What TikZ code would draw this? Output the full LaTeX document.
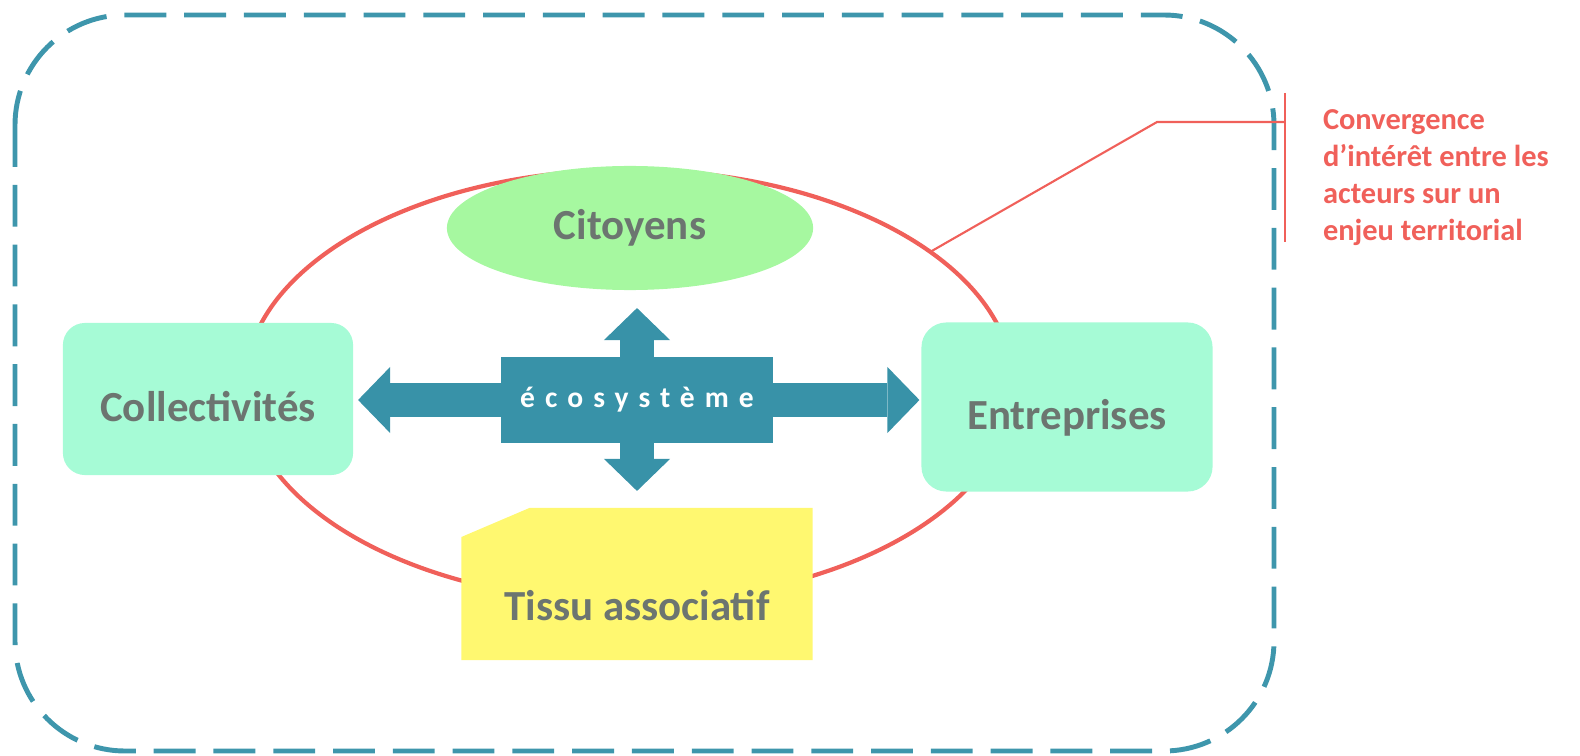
\documentclass[tikz,border=0pt]{standalone}
\usepackage{fontspec}
\setmainfont{Carlito}
\usepackage{tikz}
\usetikzlibrary{arrows.meta,shapes.geometric}

\definecolor{boxline}{RGB}{62,150,172}
\definecolor{ecoblue}{RGB}{56,146,168}
\definecolor{redline}{RGB}{240,96,90}
\definecolor{citgreen}{RGB}{166,248,160}
\definecolor{mint}{RGB}{166,251,214}
\definecolor{tisyellow}{RGB}{255,248,112}
\definecolor{textgray}{RGB}{108,117,112}

\begin{document}
\begin{tikzpicture}[x=0.01cm,y=-0.01cm]
        \tikzstyle{every node} = [inner sep=0pt, outer sep=0pt]
        \tikzstyle{actor} = [rectangle, fill=mint, text=textgray, font=\fontsize{12.2}{14}\selectfont\bfseries]
        \tikzstyle{bigarrow} = [ecoblue, line width=0.34cm, -{Triangle[length=0.32cm, width=0.66cm, line width=0pt]}]
        \useasboundingbox (0,0) rectangle (1580,755);
        \draw[boxline, line width=1.4pt, dash pattern=on 11.9pt off 5.1pt, rounded corners=1.1cm] (15,15) rectangle (1274,751);
        \node[ellipse, draw=redline, line width=1.2pt, minimum width=7.68cm, minimum height=4.32cm] (ring) at (629,386) {};
        \node[actor, ellipse, fill=citgreen, minimum width=3.66cm, minimum height=1.24cm] (cit) at (630,228) {Citoyens};
        \node[actor, rounded corners=0.22cm, minimum width=2.90cm, minimum height=1.52cm] (coll) at (208,399) {\raisebox{-0.07cm}[\height][0pt]{Collectivités}};
        \node[actor, rounded corners=0.25cm, minimum width=2.91cm, minimum height=1.69cm] (ent) at (1067,407) {\raisebox{-0.07cm}[\height][0pt]{Entreprises}};
        \node[actor, fill=none, minimum width=3.51cm, minimum height=1.52cm,
            path picture={\fill[tisyellow] ([yshift=-0.29cm]path picture bounding box.north west) -- ([xshift=0.68cm]path picture bounding box.north west) -- (path picture bounding box.north east) -- (path picture bounding box.south east) -- (path picture bounding box.south west) -- cycle;}]
            (tis) at (637,584) {\raisebox{-0.21cm}[\height][0pt]{Tissu associatif}};
        \node[rectangle, fill=ecoblue, text=white, minimum width=2.71cm, minimum height=0.86cm,
            font=\fontsize{8.4}{10}\selectfont\bfseries\addfontfeature{LetterSpace=34}] (eco) at (637,400) {écosystème};
        \foreach \from/\to/\gap in {eco.west/eco.west -| coll.east/0.05, eco.east/eco.east -| ent.west/0.02, eco.north/eco.north |- cit.south/0.18, eco.south/eco.south |- tis.north/0.17}
            \draw[bigarrow, shorten >=\gap cm] (\from) -- (\to);
        \coordinate (kink) at (1157,122);
        \coordinate (bartop) at (1285,93);
        \coordinate (barbot) at (1285,242);
        \draw[redline, line width=0.6pt] (bartop) -- (barbot);
        \draw[redline, line width=0.6pt] (ring.24) -- (kink) -- (kink -| bartop);
        \node[anchor=north west, align=left, text=redline, font=\fontsize{8.65}{10.5}\selectfont\bfseries] (note) at (1323,110)
            {Convergence\\d’intérêt entre les\\acteurs sur un\\enjeu territorial};
    	\end{tikzpicture}
\end{document}
